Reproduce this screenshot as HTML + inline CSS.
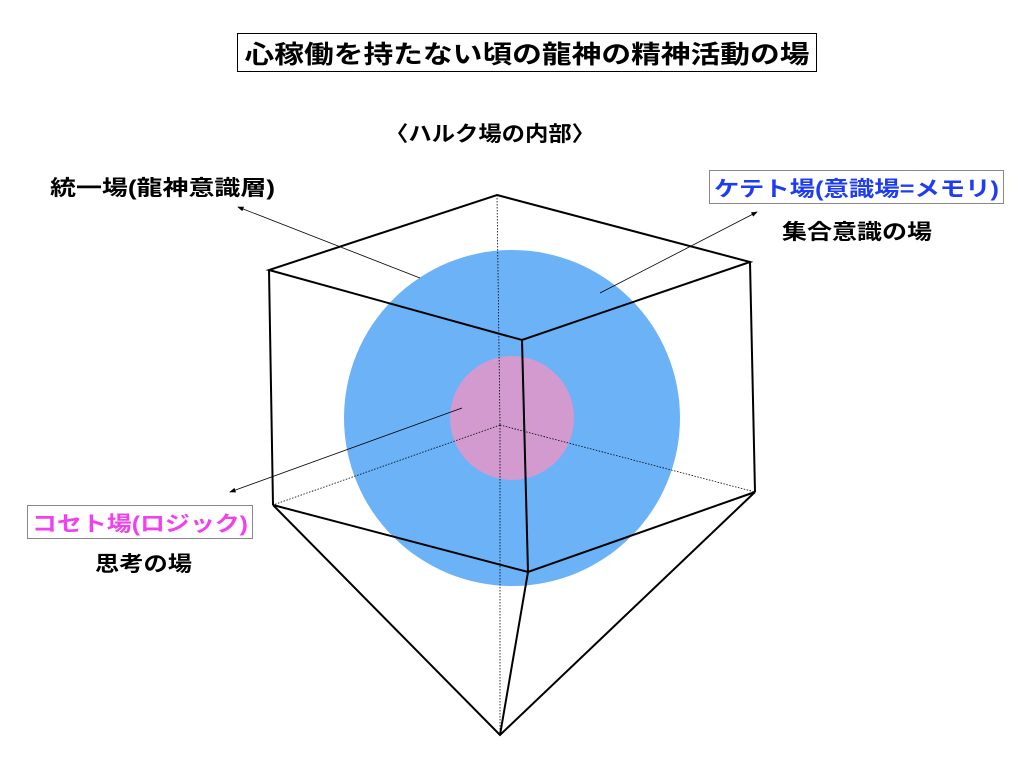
<!DOCTYPE html>
<html><head><meta charset="utf-8"><style>
html,body{margin:0;padding:0;background:#fff;}
svg{display:block;}
text{font-family:"Liberation Sans","Noto Sans CJK JP",sans-serif;font-weight:bold;}
</style></head><body>
<svg width="1024" height="768" viewBox="0 0 1024 768" xmlns="http://www.w3.org/2000/svg">
<defs><marker id="a" markerWidth="8" markerHeight="6" refX="7" refY="3" orient="auto"><path d="M0,0 L8,3 L0,6z" fill="#000"/></marker></defs>
<rect x="237.5" y="33.5" width="579" height="38" fill="#fff" stroke="#000" stroke-width="1"/>
<text x="527" y="63" font-size="25" text-anchor="middle" textLength="565" lengthAdjust="spacingAndGlyphs">心稼働を持たない頃の龍神の精神活動の場</text>
<text x="490" y="141" font-size="21" text-anchor="middle" textLength="210" lengthAdjust="spacingAndGlyphs">〈ハルク場の内部〉</text>
<text x="50" y="195" font-size="21" textLength="225" lengthAdjust="spacingAndGlyphs">統一場(龍神意識層)</text>
<rect x="709.5" y="170.5" width="294" height="33" fill="#fff" stroke="#888" stroke-width="1"/>
<text x="714" y="196" font-size="21" fill="#1f3cf5" textLength="285" lengthAdjust="spacingAndGlyphs">ケテト場(意識場=メモリ)</text>
<text x="782" y="239" font-size="21" textLength="150" lengthAdjust="spacingAndGlyphs">集合意識の場</text>
<rect x="27.5" y="505.5" width="225" height="33" fill="#fff" stroke="#888" stroke-width="1"/>
<text x="32" y="531" font-size="21" fill="#f040f0" textLength="216" lengthAdjust="spacingAndGlyphs">コセト場(ロジック)</text>
<text x="95" y="571" font-size="21" textLength="97" lengthAdjust="spacingAndGlyphs">思考の場</text>
<circle cx="512" cy="418" r="168" fill="#6cb2f7"/>
<circle cx="512" cy="418" r="62" fill="#d39ad0"/>
<g stroke="#000" stroke-width="0.8" stroke-dasharray="1.5,1.5" fill="none">
<line x1="497" y1="195" x2="500" y2="425"/>
<line x1="500" y1="425" x2="273" y2="505"/>
<line x1="500" y1="425" x2="755" y2="492"/>
<line x1="500" y1="425" x2="500" y2="735"/>
</g>
<g stroke="#000" stroke-width="2" fill="none" stroke-linejoin="miter">
<polygon points="497,195 750,262 522,340 269,270"/>
<line x1="269" y1="270" x2="273" y2="505"/>
<line x1="750" y1="262" x2="755" y2="492"/>
<line x1="522" y1="340" x2="528" y2="572"/>
<polyline points="273,505 528,572 755,492"/>
<polyline points="273,505 500,735 755,492"/>
<line x1="528" y1="572" x2="500" y2="735"/>
</g>
<g stroke="#000" stroke-width="0.8" fill="none">
<line x1="420" y1="278" x2="238" y2="207" marker-end="url(#a)"/>
<line x1="600" y1="293" x2="757" y2="212" marker-end="url(#a)"/>
<line x1="462" y1="408" x2="230" y2="492" marker-end="url(#a)"/>
</g>
</svg>
</body></html>
